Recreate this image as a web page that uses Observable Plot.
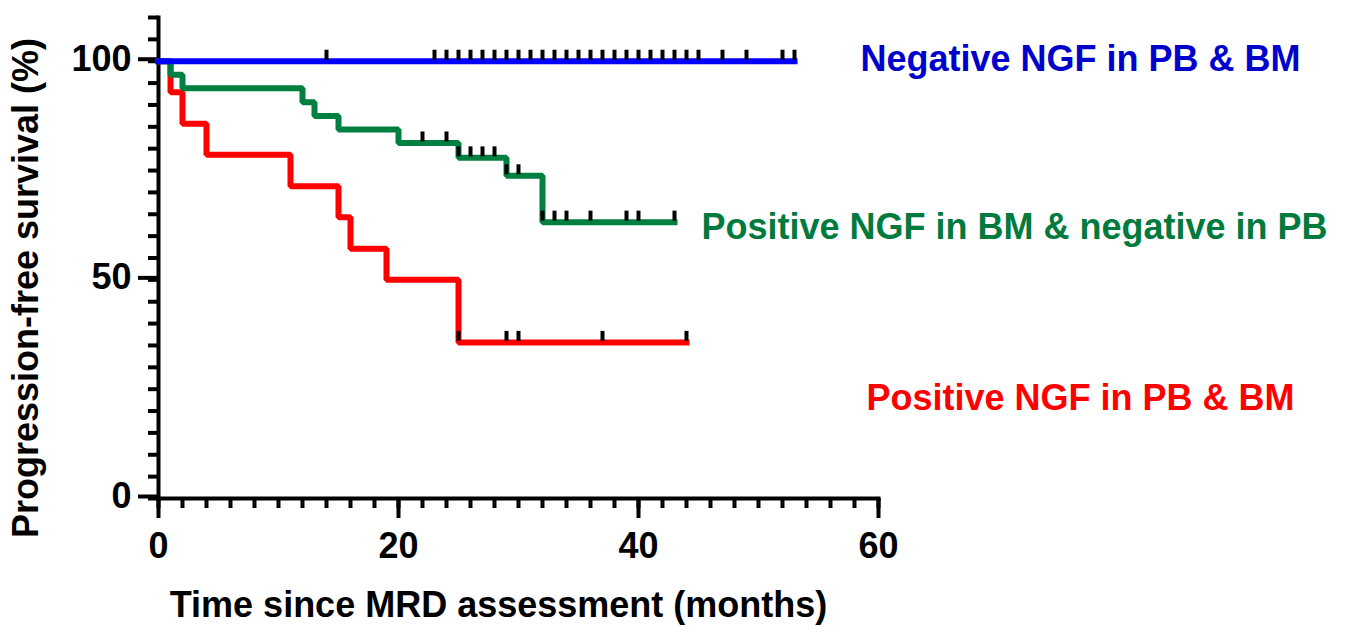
<!DOCTYPE html>
<html><head><meta charset="utf-8">
<script src="https://cdn.jsdelivr.net/npm/d3@7"></script>
<script src="https://cdn.jsdelivr.net/npm/@observablehq/plot@0.6"></script>
<style>html,body{margin:0;padding:0;background:#fff;}</style>
</head><body><div id="chart"></div>
<script>
// ---- data ----
const seriesNames = ["Negative NGF in PB & BM", "Positive NGF in BM & negative in PB", "Positive NGF in PB & BM"];
const seriesColors = ["#0000FF", "#008040", "#FF0000"];
const labelColors = ["#0000CC", "#007A3D", "#FF0000"];

const negTimes = [0, 53];
const negSurv = [100, 100];
const negCensor = [14, 23, 24, 25, 26, 27, 28, 29, 30, 31, 32, 33, 34, 35, 36, 37, 38, 39, 40, 41, 42, 43, 44, 45, 47, 49, 52, 53];

const bmTimes = [0, 1, 2, 12, 13, 15, 20, 25, 29, 32, 43];
const bmSurv = [100, 96.9, 93.8, 90.6, 87.5, 84.4, 81.3, 77.9, 73.8, 63.2, 63.2];
const bmCensor = [22, 24, 25, 26, 27, 28, 29, 30, 32, 33, 34, 36, 39, 40, 43];

const posTimes = [0, 1, 2, 4, 11, 15, 16, 19, 25, 44];
const posSurv = [100, 92.9, 85.7, 78.6, 71.4, 64.3, 57.1, 50, 35.7, 35.7];
const posCensor = [25, 29, 30, 37, 44];

const xTicks = [0, 20, 40, 60];
const xMinorTicks = d3.range(0, 61, 2);
const yTicks = [0, 50, 100];
const yMinorTicks = d3.range(0, 111, 5);
const xTitle = "Time since MRD assessment (months)";
const yTitle = "Progression-free survival (%)";

// ---- build tables ----
function curve(times, surv) { return times.map((t, i) => ({t, s: surv[i]})); }
function censors(times, surv, cens) {
  return cens.map(c => {
    let k = 0;
    for (let i = 0; i < times.length; i++) if (times[i] <= c) k = i;
    return {t: c, s: surv[k]};
  });
}
const curves = [curve(negTimes, negSurv), curve(bmTimes, bmSurv), curve(posTimes, posSurv)];
const cens = [censors(negTimes, negSurv, negCensor), censors(bmTimes, bmSurv, bmCensor), censors(posTimes, posSurv, posCensor)];

const font = {fontSize: 36, fontWeight: "bold"};
const order = [2, 1, 0]; // draw red, green, blue
const labelPos = [{dx: -18, dy: 41.5}, {dx: -177, dy: 210}, {dx: -12, dy: 381}];

const marks = [];
for (const k of order) {
  marks.push(Plot.line(curves[k], {x: "t", y: "s", curve: "step-after", stroke: seriesColors[k], strokeWidth: 6, strokeLinejoin: "miter", strokeLinecap: "square"}));
  marks.push(Plot.ruleX(cens[k], {x: "t", y1: "s", y2: "s", dy: -6, insetTop: -5, insetBottom: -5, stroke: "black", strokeWidth: 4}));
}
for (let k = 0; k < 3; k++) {
  marks.push(Plot.text([seriesNames[k]], {text: d => d, frameAnchor: "top-right", textAnchor: "start", lineAnchor: "middle", dx: labelPos[k].dx, dy: labelPos[k].dy, fill: labelColors[k], ...font}));
}

const chart = Plot.plot({
  width: 1352,
  height: 632,
  marginLeft: 158,
  marginRight: 474,
  marginTop: 17,
  marginBottom: 134,
  style: {fontFamily: "'Liberation Sans', Arial, sans-serif", fontSize: "36px", fontWeight: "bold", color: "black", background: "white"},
  x: {domain: [0, 60], label: null},
  y: {domain: [0, 110], label: null},
  marks: [
    Plot.axisY(yMinorTicks, {tickSize: 10, tickFormat: () => "", strokeWidth: 4, label: null}),
    Plot.axisY(yTicks, {tickSize: 20, tickPadding: 7, strokeWidth: 4, label: null, dy: -2, ...font}),
    Plot.axisX(xMinorTicks, {tickSize: 10, tickFormat: () => "", strokeWidth: 4, label: null}),
    Plot.axisX(xTicks, {tickSize: 20, tickPadding: 14, strokeWidth: 4, label: null, ...font}),
    Plot.frame({anchor: "left", strokeWidth: 4, stroke: "black"}),
    Plot.frame({anchor: "bottom", strokeWidth: 4, stroke: "black"}),
    ...marks,
    Plot.text([yTitle], {text: d => d, frameAnchor: "left", rotate: -90, textAnchor: "middle", lineAnchor: "middle", dx: -132, dy: 30, fill: "black", ...font}),
    Plot.text([xTitle], {text: d => d, frameAnchor: "bottom", textAnchor: "middle", lineAnchor: "middle", dx: -20, dy: 107, fill: "black", ...font})
  ]
});
document.getElementById("chart").appendChild(chart);
</script>
</body></html>
